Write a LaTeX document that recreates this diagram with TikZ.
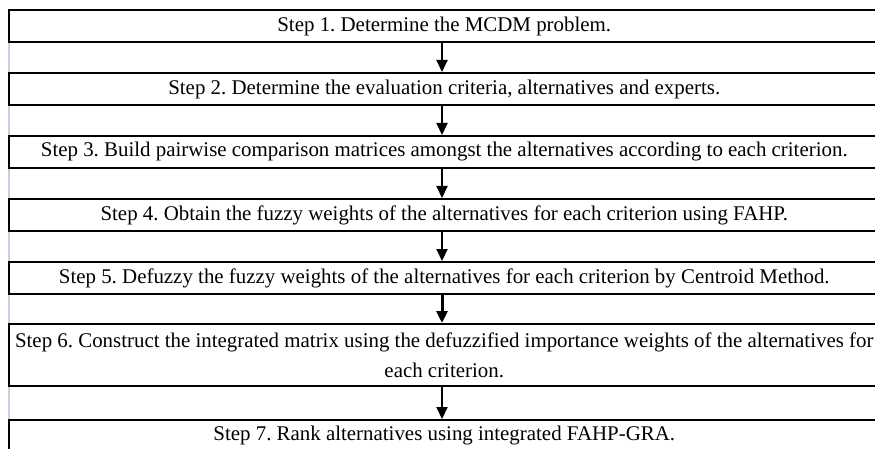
\documentclass[tikz,border=0pt]{standalone}
\usepackage{fontspec}
\setmainfont{Liberation Serif}
\usetikzlibrary{arrows.meta}
\frenchspacing
\begin{document}
\begin{tikzpicture}[x=1pt,y=-1pt,
  stepbox/.style={draw=black, line width=2pt, fill=white, rectangle, inner sep=0pt,
    minimum width=871.5pt, align=center,
    font=\fontsize{20.9}{30}\selectfont},
  arr/.style={line width=2pt, -{Triangle[width=11pt,length=12pt]}},
  guide/.style={draw={rgb,255:red,200;green,208;blue,228}, line width=2pt}]
\useasboundingbox (0,0) rectangle (875,449);
\clip (0,0) rectangle (875,449);
\coordinate (gtop) at (8.5,42);
\coordinate (gbot) at (8.5,449);
\draw[guide] (gtop) -- (gbot);
\coordinate (ax) at (442,0);
\node[stepbox, minimum height=32pt] (s1) at (444.25,26) {Step 1. Determine the MCDM problem.};
\node[stepbox, minimum height=32pt] (s2) at (444.25,89) {Step 2. Determine the evaluation criteria, alternatives and experts.};
\node[stepbox, minimum height=32pt] (s3) at (444.25,152) {Step 3. Build pairwise comparison matrices amongst the alternatives according to each criterion.};
\node[stepbox, minimum height=32pt] (s4) at (444.25,215) {Step 4. Obtain the fuzzy weights of the alternatives for each criterion using FAHP.};
\node[stepbox, minimum height=32pt] (s5) at (444.25,278) {Step 5. Defuzzy the fuzzy weights of the alternatives for each criterion by Centroid Method.};
\node[stepbox, minimum height=62pt] (s6) at (444.25,355) {Step 6. Construct the integrated matrix using the defuzzified importance weights of the alternatives for\\ each criterion.};
\node[stepbox, minimum height=32pt] (s7) at (444.25,436) {Step 7. Rank alternatives using integrated FAHP-GRA.};
\draw[arr] (s1.south -| ax) -- (s2.north -| ax);
\draw[arr] (s2.south -| ax) -- (s3.north -| ax);
\draw[arr] (s3.south -| ax) -- (s4.north -| ax);
\draw[arr] (s4.south -| ax) -- (s5.north -| ax);
\draw[arr, line width=3pt] (s5.south -| ax) -- (s6.north -| ax);
\draw[arr] (s6.south -| ax) -- (s7.north -| ax);
\end{tikzpicture}
\end{document}
